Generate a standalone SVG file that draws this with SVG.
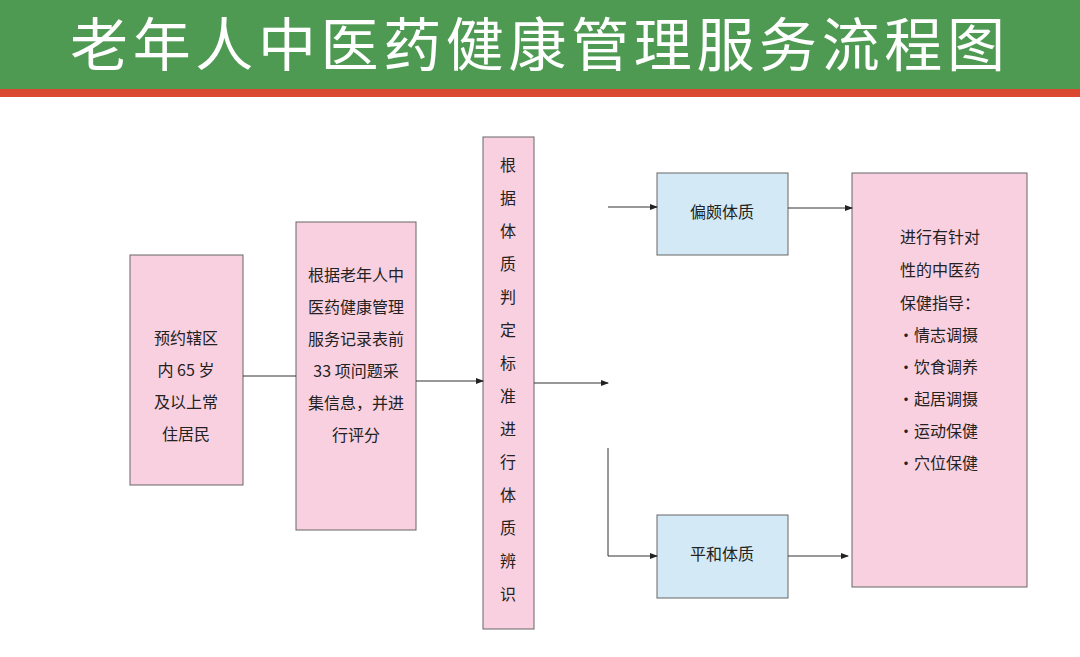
<svg xmlns="http://www.w3.org/2000/svg" width="1080" height="657" viewBox="0 0 1080 657">
<style>
text{font-family:"Noto Sans CJK SC","Liberation Sans",sans-serif;fill:#222;font-size:16px}
.pk{fill:#f9d0e0;stroke:#666;stroke-width:1}
.bl{fill:#d3eaf6;stroke:#666;stroke-width:1}
.c{stroke:#333;stroke-width:1;fill:none}
</style>
<defs><marker id="a" markerWidth="8" markerHeight="6" refX="7" refY="3" orient="auto"><path d="M0,0L8,3L0,6z" fill="#222"/></marker></defs>
<rect width="1080" height="657" fill="#fff"/>
<rect width="1080" height="89" fill="#4f9a52"/>
<rect y="89" width="1080" height="8" fill="#d9482f"/>
<text x="70" y="66" textLength="935" lengthAdjust="spacing" style="font-size:58px;fill:#fff">老年人中医药健康管理服务流程图</text>
<g id="n1"><rect class="pk" x="130" y="255" width="113" height="230"/>
<text x="186" y="344" text-anchor="middle">预约辖区</text><text x="186" y="376" text-anchor="middle">内 65 岁</text><text x="186" y="408" text-anchor="middle">及以上常</text><text x="186" y="440" text-anchor="middle">住居民</text></g>
<g id="n2"><rect class="pk" x="296" y="222" width="120" height="308"/>
<text x="356" y="281" text-anchor="middle">根据老年人中</text><text x="356" y="313" text-anchor="middle">医药健康管理</text><text x="356" y="345" text-anchor="middle">服务记录表前</text><text x="356" y="377" text-anchor="middle">33 项问题采</text><text x="356" y="409" text-anchor="middle">集信息，并进</text><text x="356" y="441" text-anchor="middle">行评分</text></g>
<g id="n3"><rect class="pk" x="483" y="137" width="51" height="492"/>
<text x="508" y="171" text-anchor="middle">根</text><text x="508" y="204" text-anchor="middle">据</text><text x="508" y="237" text-anchor="middle">体</text><text x="508" y="270" text-anchor="middle">质</text><text x="508" y="303" text-anchor="middle">判</text><text x="508" y="336" text-anchor="middle">定</text><text x="508" y="369" text-anchor="middle">标</text><text x="508" y="402" text-anchor="middle">准</text><text x="508" y="435" text-anchor="middle">进</text><text x="508" y="468" text-anchor="middle">行</text><text x="508" y="501" text-anchor="middle">体</text><text x="508" y="534" text-anchor="middle">质</text><text x="508" y="567" text-anchor="middle">辨</text><text x="508" y="600" text-anchor="middle">识</text></g>
<g id="n4"><rect class="bl" x="657" y="173" width="131" height="82"/><text x="722" y="218" text-anchor="middle">偏颇体质</text></g>
<g id="n5"><rect class="bl" x="657" y="515" width="131" height="83"/><text x="722" y="560" text-anchor="middle">平和体质</text></g>
<g id="n6"><rect class="pk" x="852" y="173" width="175" height="414"/>
<text x="940" y="243" text-anchor="middle">进行有针对</text><text x="940" y="276" text-anchor="middle">性的中医药</text><text x="940" y="309" text-anchor="middle">保健指导：</text>
<text x="898" y="341">·情志调摄</text><text x="898" y="373">·饮食调养</text><text x="898" y="405">·起居调摄</text><text x="898" y="437">·运动保健</text><text x="898" y="469">·穴位保健</text></g>
<g id="connectors">
<path class="c" d="M243,376H296"/>
<path class="c" d="M416,381H483" marker-end="url(#a)"/>
<path class="c" d="M534,383H608" marker-end="url(#a)"/>
<path class="c" d="M608,207H657" marker-end="url(#a)"/>
<path class="c" d="M608,448V556H657" marker-end="url(#a)" stroke="#999"/>
<path class="c" d="M788,208H852" marker-end="url(#a)"/>
<path class="c" d="M788,556H848" marker-end="url(#a)"/>
</g>
</svg>
